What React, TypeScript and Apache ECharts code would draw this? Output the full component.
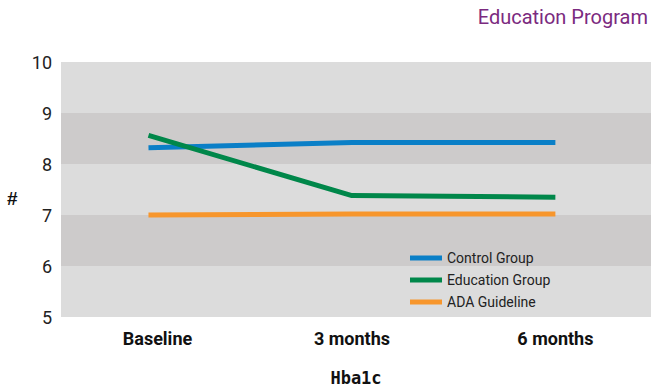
import React, { useEffect, useRef } from "react";
import * as echarts from "echarts";

const categories = ["Baseline", "3 months", "6 months"];
const controlGroup = [8.32, 8.42, 8.42];
const educationGroup = [8.56, 7.38, 7.35];
const adaGuideline = [7.0, 7.02, 7.02];
const yTicks = [5, 6, 7, 8, 9, 10];

export default function App() {
  const ref = useRef<HTMLDivElement>(null);
  useEffect(() => {
    if (!ref.current) return;
    const chart = echarts.init(ref.current, undefined, { renderer: "svg" });
    const narrow = "'Liberation Sans Narrow', 'Roboto', 'DejaVu Sans Condensed', sans-serif";
    const toPoints = (arr: number[]) => arr.map((v, i) => [i, v]);
    const labelFont = { fontSize: 18, fontWeight: "bold", color: "#111", fontFamily: narrow };
    chart.setOption({
      animation: false,
      backgroundColor: "#ffffff",
      title: {
        text: "Education Program",
        right: 3,
        top: 7,
        padding: 0,
        textStyle: { color: "#7b2a80", fontSize: 20, fontWeight: "normal", fontFamily: narrow },
      },
      grid: { left: 61, right: 0, top: 62, bottom: 66 },
      legend: {
        orient: "vertical",
        left: 410,
        top: 251,
        padding: 0,
        itemWidth: 32,
        itemHeight: 5,
        itemGap: 8,
        icon: "rect",
        textStyle: { fontSize: 14, color: "#222", fontFamily: narrow },
        data: ["Control Group", "Education Group", "ADA Guideline"],
      },
      xAxis: {
        type: "value",
        min: -0.43,
        max: 2.47,
        axisLine: { show: false },
        axisTick: { show: false },
        splitLine: { show: false },
        axisLabel: {
          customValues: [0, 1, 2],
          formatter: (v: number) => {
            const i = Math.round(v);
            const name = categories[i] ?? "";
            return i === 0 ? "{first|" + name + "}" : name;
          },
          ...labelFont,
          margin: 12,
          rich: { first: { ...labelFont, padding: [0, 0, 0, 18] } },
        },
        name: "Hba1c",
        nameLocation: "middle",
        nameGap: 52,
        nameTextStyle: { fontSize: 17, fontWeight: "bold", color: "#111", fontFamily: "'DejaVu Sans Mono', monospace" },
      },
      yAxis: {
        type: "value",
        min: yTicks[0],
        max: yTicks[yTicks.length - 1],
        interval: 1,
        axisLine: { show: false },
        axisTick: { show: false },
        splitLine: { show: false },
        splitArea: { show: true, areaStyle: { color: ["#dcdcdc", "#cdcbcb"] } },
        axisLabel: { fontSize: 18, color: "#222", margin: 9, fontFamily: narrow },
      },
      graphic: [
        {
          type: "text",
          left: 7,
          top: 189,
          style: { text: "#", fontSize: 19, fontWeight: "bold", fill: "#111", fontFamily: "'Liberation Sans', sans-serif" },
        },
      ],
      series: [
        {
          name: "Control Group",
          type: "line",
          data: toPoints(controlGroup),
          symbol: "none",
          lineStyle: { width: 5, color: "#0a7fc7" },
          itemStyle: { color: "#0a7fc7" },
          z: 3,
        },
        {
          name: "Education Group",
          type: "line",
          data: toPoints(educationGroup),
          symbol: "none",
          lineStyle: { width: 5, color: "#00874a" },
          itemStyle: { color: "#00874a" },
          z: 4,
        },
        {
          name: "ADA Guideline",
          type: "line",
          data: toPoints(adaGuideline),
          symbol: "none",
          lineStyle: { width: 5, color: "#f7962c" },
          itemStyle: { color: "#f7962c" },
          z: 2,
        },
      ],
    });
    return () => chart.dispose();
  }, []);
  return <div ref={ref} style={{ width: 651, height: 391, position: "absolute", left: 0, top: 0 }} />;
}
